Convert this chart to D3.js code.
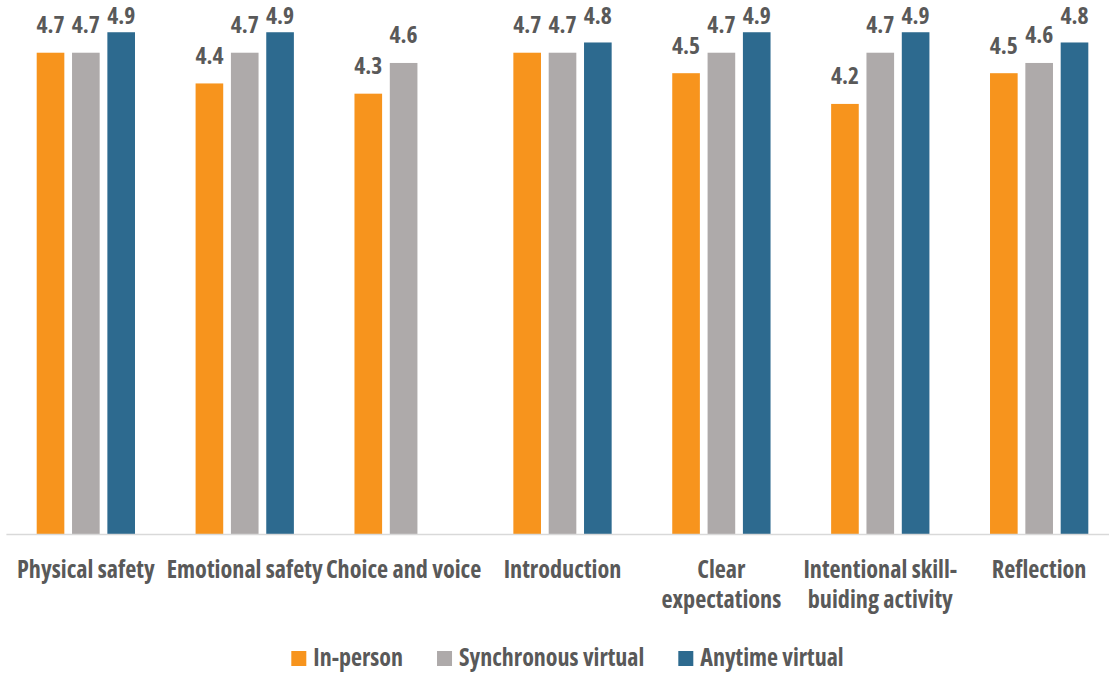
<!DOCTYPE html>
<html>
<head>
<meta charset="utf-8">
<script src="https://cdn.jsdelivr.net/npm/d3@7"></script>
<style>
  html, body { margin: 0; padding: 0; background: #fff; }
  svg text { font-family: "Open Sans", "Liberation Sans Narrow", sans-serif; font-stretch: 75%; font-weight: 700; fill: #595959; }
</style>
</head>
<body>
<svg id="chart" width="1109" height="674"></svg>
<script>
// Average rating by session element and delivery format
const categories = [
  ["Physical safety"],
  ["Emotional safety"],
  ["Choice and voice"],
  ["Introduction"],
  ["Clear", "expectations"],
  ["Intentional skill-", "buiding activity"],
  ["Reflection"]
];
const seriesNames = ["In-person", "Synchronous virtual", "Anytime virtual"];
const inPerson    = [4.7, 4.4, 4.3, 4.7, 4.5, 4.2, 4.5];
const synchronous = [4.7, 4.7, 4.6, 4.7, 4.7, 4.7, 4.6];
const anytime     = [4.9, 4.9, null, 4.8, 4.9, 4.9, 4.8];
const seriesColors = ["#F7941D", "#AEAAAA", "#2D6A8F"];

const values = [inPerson, synchronous, anytime];
const svg = d3.select("#chart");

const catKeys = categories.map(c => c.join(" "));
const x0 = d3.scaleBand().domain(catKeys).range([6.4, 1118.6]).padding(0);
const x1 = d3.scaleBand().domain(seriesNames).range([30.3, 128.6]).paddingInner(0.218).paddingOuter(0);
const y = d3.scaleLinear().domain([0, 5]).range([534, 22]);

const cells = [];
catKeys.forEach((c, i) => {
  seriesNames.forEach((s, j) => {
    const v = values[j][i];
    if (v != null) cells.push({ cat: c, series: s, value: v, color: seriesColors[j] });
  });
});

// bars
const barG = svg.append("g");
barG.selectAll("rect")
  .data(cells)
  .join("rect")
  .attr("x", d => x0(d.cat) + x1(d.series))
  .attr("y", d => y(d.value))
  .attr("width", x1.bandwidth())
  .attr("height", d => y(0) - y(d.value))
  .attr("fill", d => d.color);

// value labels, kept inside the top of the plot area
barG.selectAll("text")
  .data(cells)
  .join("text")
  .attr("x", d => x0(d.cat) + x1(d.series) + x1.bandwidth() / 2)
  .attr("y", d => Math.max(y(d.value) - 19.5, 23.5))
  .attr("text-anchor", "middle")
  .style("font-size", "23.5px")
  .text(d => d3.format(".1f")(d.value));

// category axis
svg.append("line")
  .attr("x1", x0.range()[0]).attr("x2", 1109)
  .attr("y1", y(0) + 0.5).attr("y2", y(0) + 0.5)
  .attr("stroke", "#D9D9D9").attr("stroke-width", 1.5);

const labels = svg.append("g").selectAll("text")
  .data(categories)
  .join("text")
  .attr("x", (d, i) => x0(catKeys[i]) + x0.bandwidth() / 2)
  .attr("y", 578)
  .attr("text-anchor", "middle")
  .style("font-size", "24.2px");
labels.selectAll("tspan")
  .data(d => d)
  .join("tspan")
  .attr("x", function () { return this.parentNode.getAttribute("x"); })
  .attr("dy", (d, i) => i === 0 ? 0 : 30)
  .text(d => d);

// legend, laid out from measured label widths and centred under the plot
const swatch = 15, swatchGap = 7, entryGap = 34, legendCenter = 567.5;
const legend = svg.append("g");
const entries = legend.selectAll("g")
  .data(seriesNames)
  .join("g");
entries.append("rect")
  .attr("y", 651)
  .attr("width", swatch).attr("height", swatch)
  .attr("fill", (d, i) => seriesColors[i]);
entries.append("text")
  .attr("x", swatch + swatchGap).attr("y", 666)
  .style("font-size", "24px")
  .text(d => d);
let offset = 0;
const offsets = [];
entries.each(function () {
  offsets.push(offset);
  const w = d3.select(this).select("text").node().getComputedTextLength();
  offset += swatch + swatchGap + w + entryGap;
});
const totalWidth = offset - entryGap;
entries.attr("transform", (d, i) => `translate(${legendCenter - totalWidth / 2 + offsets[i]},0)`);
</script>
</body>
</html>
